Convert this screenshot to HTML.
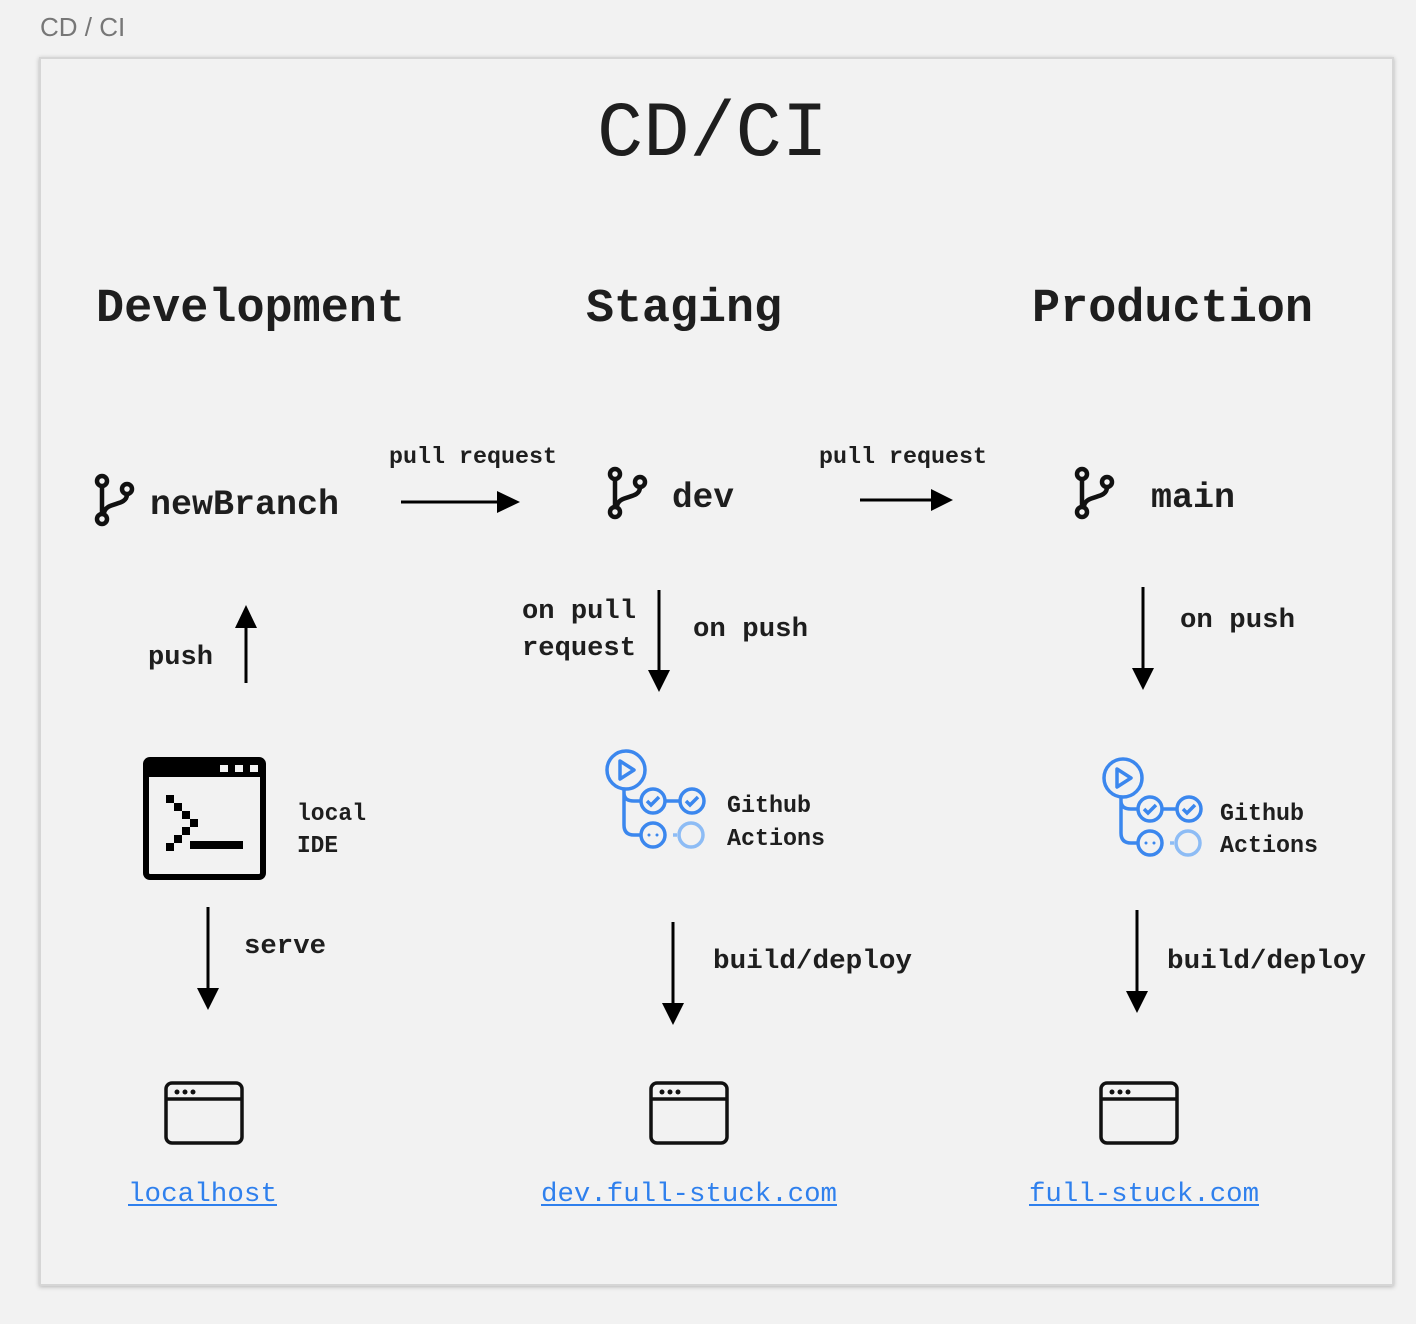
<!DOCTYPE html>
<html><head><meta charset="utf-8"><style>
html,body{margin:0;padding:0;background:#f2f2f2;}
svg{display:block}
.m{font-family:"Liberation Mono",monospace;fill:#1e1e1e}
.b{font-weight:bold}
.lnk{fill:#2f80ed;font-family:"Liberation Mono",monospace}
</style></head><body>
<svg width="1416" height="1324" viewBox="0 0 1416 1324" xmlns="http://www.w3.org/2000/svg">
<defs>
<filter id="sh" x="-5%" y="-5%" width="110%" height="110%"><feDropShadow dx="0" dy="1" stdDeviation="2" flood-color="#000" flood-opacity="0.25"/></filter>
<g id="branch" fill="none" stroke="#111" stroke-width="4.5">
<circle cx="0" cy="0" r="5"/><circle cx="25" cy="8" r="5"/><circle cx="0" cy="38" r="5"/>
<path d="M0 5 V33 M25 13 C25 26 4 20 2 32"/>
</g>
<g id="gha" fill="none" stroke="#3b87ee" stroke-width="3.5">
<circle cx="21" cy="20" r="19"/>
<path d="M15 11 L29 20 L15 29 Z" stroke-linejoin="round"/>
<path d="M19 39 V75 Q19 85 29 85 H36 M19 45 V43 Q19 51 29 51 H36 M60 51 H75"/>
<circle cx="48" cy="51" r="12"/><circle cx="87" cy="51" r="12"/>
<path d="M42 51 l4 4 l8-8 M81 51 l4 4 l8-8"/>
<circle cx="48" cy="85" r="12"/>
<circle cx="86" cy="85" r="12" stroke="#8dbcf5"/>
<path d="M68 85 H72" stroke="#8dbcf5"/>
<circle cx="44" cy="85" r="1.5" fill="#3b87ee" stroke="none"/><circle cx="52" cy="85" r="1.5" fill="#3b87ee" stroke="none"/>
</g>
<g id="brow" fill="none" stroke="#111" stroke-width="3.5">
<rect x="0" y="0" width="76" height="60" rx="6"/>
<path d="M0 16 H76"/>
<circle cx="11" cy="9" r="2.5" fill="#111" stroke="none"/><circle cx="19" cy="9" r="2.5" fill="#111" stroke="none"/><circle cx="27" cy="9" r="2.5" fill="#111" stroke="none"/>
</g>
</defs>
<rect width="1416" height="1324" fill="#f2f2f2"/>
<text x="40" y="36" font-family="Liberation Sans,sans-serif" font-size="26" fill="#777">CD / CI</text>
<rect x="40" y="58" width="1353" height="1227" fill="#f2f2f2" stroke="#d6d6d6" stroke-width="2" filter="url(#sh)"/>

<text class="m" x="597" y="155" font-size="78" textLength="231" lengthAdjust="spacingAndGlyphs">CD/CI</text>
<text class="m b" x="96" y="321" font-size="47" textLength="309" lengthAdjust="spacingAndGlyphs">Development</text>
<text class="m b" x="586" y="321" font-size="47" textLength="196" lengthAdjust="spacingAndGlyphs">Staging</text>
<text class="m b" x="1032" y="321" font-size="47" textLength="281" lengthAdjust="spacingAndGlyphs">Production</text>

<use href="#branch" x="102" y="481"/>
<text class="m b" x="150" y="514" font-size="35" textLength="189" lengthAdjust="spacingAndGlyphs">newBranch</text>
<use href="#branch" x="615" y="474"/>
<text class="m b" x="672" y="507" font-size="35" textLength="62" lengthAdjust="spacingAndGlyphs">dev</text>
<use href="#branch" x="1082" y="474"/>
<text class="m b" x="1151" y="507" font-size="35" textLength="84" lengthAdjust="spacingAndGlyphs">main</text>

<text class="m b" x="389" y="463" font-size="23" textLength="168" lengthAdjust="spacingAndGlyphs">pull request</text>
<text class="m b" x="819" y="463" font-size="23" textLength="168" lengthAdjust="spacingAndGlyphs">pull request</text>
<g stroke="#000" stroke-width="3">
<line x1="401" y1="502" x2="498" y2="502"/><path d="M497 491 L520 502 L497 513 Z" fill="#000" stroke="none"/>
<line x1="860" y1="500" x2="932" y2="500"/><path d="M931 489 L953 500 L931 511 Z" fill="#000" stroke="none"/>
<line x1="659" y1="590" x2="659" y2="672"/><path d="M648 670 L659 692 L670 670 Z" fill="#000" stroke="none"/>
<line x1="1143" y1="587" x2="1143" y2="670"/><path d="M1132 668 L1143 690 L1154 668 Z" fill="#000" stroke="none"/>
<line x1="246" y1="683" x2="246" y2="625"/><path d="M235 628 L246 605 L257 628 Z" fill="#000" stroke="none"/>
<line x1="208" y1="907" x2="208" y2="990"/><path d="M197 988 L208 1010 L219 988 Z" fill="#000" stroke="none"/>
<line x1="673" y1="922" x2="673" y2="1005"/><path d="M662 1003 L673 1025 L684 1003 Z" fill="#000" stroke="none"/>
<line x1="1137" y1="910" x2="1137" y2="993"/><path d="M1126 991 L1137 1013 L1148 991 Z" fill="#000" stroke="none"/>
</g>

<text class="m b" x="522" y="618" font-size="27" textLength="114" lengthAdjust="spacingAndGlyphs">on pull</text>
<text class="m b" x="522" y="655" font-size="27" textLength="114" lengthAdjust="spacingAndGlyphs">request</text>
<text class="m b" x="693" y="636" font-size="27" textLength="115" lengthAdjust="spacingAndGlyphs">on push</text>
<text class="m b" x="1180" y="627" font-size="27" textLength="115" lengthAdjust="spacingAndGlyphs">on push</text>
<text class="m b" x="148" y="664" font-size="27" textLength="65" lengthAdjust="spacingAndGlyphs">push</text>

<rect x="146" y="760" width="117" height="117" rx="4" fill="none" stroke="#000" stroke-width="6"/>
<rect x="146" y="760" width="117" height="17" fill="#000"/>
<rect x="220" y="765" width="8" height="7" fill="#f2f2f2"/><rect x="235" y="765" width="8" height="7" fill="#f2f2f2"/><rect x="250" y="765" width="8" height="7" fill="#f2f2f2"/>
<g fill="#000">
<rect x="166" y="795" width="8" height="8"/><rect x="174" y="803" width="8" height="8"/><rect x="182" y="811" width="8" height="8"/><rect x="190" y="819" width="8" height="8"/>
<rect x="182" y="827" width="8" height="8"/><rect x="174" y="835" width="8" height="8"/><rect x="166" y="843" width="8" height="8"/>
<rect x="190" y="841" width="53" height="8"/>
</g>
<text class="m b" x="297" y="820" font-size="24" textLength="69" lengthAdjust="spacingAndGlyphs">local</text>
<text class="m b" x="297" y="852" font-size="24" textLength="41" lengthAdjust="spacingAndGlyphs">IDE</text>
<text class="m b" x="244" y="953" font-size="27" textLength="82" lengthAdjust="spacingAndGlyphs">serve</text>

<use href="#gha" x="605" y="750"/>
<text class="m b" x="727" y="812" font-size="24" textLength="84" lengthAdjust="spacingAndGlyphs">Github</text>
<text class="m b" x="727" y="845" font-size="24" textLength="98" lengthAdjust="spacingAndGlyphs">Actions</text>
<use href="#gha" x="1102" y="758"/>
<text class="m b" x="1220" y="820" font-size="24" textLength="84" lengthAdjust="spacingAndGlyphs">Github</text>
<text class="m b" x="1220" y="852" font-size="24" textLength="98" lengthAdjust="spacingAndGlyphs">Actions</text>

<text class="m b" x="713" y="968" font-size="27" textLength="199" lengthAdjust="spacingAndGlyphs">build/deploy</text>
<text class="m b" x="1167" y="968" font-size="27" textLength="199" lengthAdjust="spacingAndGlyphs">build/deploy</text>

<use href="#brow" x="166" y="1083"/>
<use href="#brow" x="651" y="1083"/>
<use href="#brow" x="1101" y="1083"/>

<text class="lnk" x="128" y="1201" font-size="27" textLength="149" lengthAdjust="spacingAndGlyphs">localhost</text>
<text class="lnk" x="541" y="1201" font-size="27" textLength="296" lengthAdjust="spacingAndGlyphs">dev.full-stuck.com</text>
<text class="lnk" x="1029" y="1201" font-size="27" textLength="230" lengthAdjust="spacingAndGlyphs">full-stuck.com</text>
<g stroke="#2f80ed" stroke-width="2">
<line x1="128" y1="1205" x2="277" y2="1205"/><line x1="541" y1="1205" x2="837" y2="1205"/><line x1="1029" y1="1205" x2="1259" y2="1205"/>
</g>
</svg>
</body></html>
